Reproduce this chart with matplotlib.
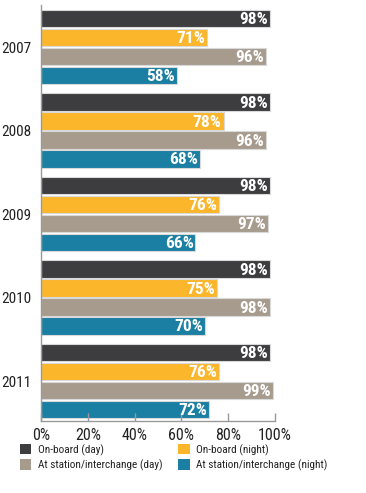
import matplotlib
matplotlib.use("Agg")
import matplotlib.pyplot as plt
from matplotlib.patches import Patch
import numpy as np

plt.rcParams['font.family'] = ['Roboto Condensed', 'DejaVu Sans']

years = ["2007", "2008", "2009", "2010", "2011"]
series_names = ["On-board (day)", "On-board (night)",
                "At station/interchange (day)", "At station/interchange (night)"]
onboard_day = [98, 98, 98, 98, 98]
onboard_night = [71, 78, 76, 75, 76]
station_day = [96, 96, 97, 98, 99]
station_night = [58, 68, 66, 70, 72]
x_ticks = [0, 20, 40, 60, 80, 100]
x_tick_labels = ["0%", "20%", "40%", "60%", "80%", "100%"]

colors = ["#3d3c3e", "#fbb62b", "#a69b8d", "#1a7fa2"]
series = [onboard_day, onboard_night, station_day, station_night]

fig = plt.figure(figsize=(3.66, 4.93), dpi=100)
ax = fig.add_axes([41/366, 1-421/493, 234/366, 416/493])

step = 0.2275
height = 0.204
centers = np.arange(len(years))
for j, (vals, col) in enumerate(zip(series, colors)):
    ys = centers + (j - 1.5) * step
    ax.barh(ys, vals, height=height, color=col, edgecolor="#d9d9d9", linewidth=0.8)
    for y, v in zip(ys, vals):
        ax.text(v - 0.8, y + 0.012, f"{v}%", ha="right", va="center", color="white",
                fontsize=12.5, fontweight="semibold")

ax.set_ylim(4.479, -0.503)
ax.set_xlim(0, 100)
ax.set_yticks(centers)
ax.set_yticklabels(years, fontsize=11, color="#222222")
ax.tick_params(axis="y", length=0, pad=7)
ax.set_xticks(x_ticks)
ax.set_xticklabels(x_tick_labels, fontsize=11.5, color="#222222")
ax.tick_params(axis="x", direction="in", length=6, color="#999999", width=1, pad=5)
for s in ["top", "right"]:
    ax.spines[s].set_visible(False)
for s in ["left", "bottom"]:
    ax.spines[s].set_color("#999999")
    ax.spines[s].set_linewidth(1)

handles = [Patch(facecolor=colors[0], label=series_names[0]),
           Patch(facecolor=colors[2], label=series_names[2]),
           Patch(facecolor=colors[1], label=series_names[1]),
           Patch(facecolor=colors[3], label=series_names[3])]
fig.legend(handles=handles, loc="upper left", bbox_to_anchor=(20/366, 1-444/493),
           ncol=2, frameon=False, fontsize=8.1, handlelength=1.0, handleheight=1.0,
           handletextpad=0.6, columnspacing=1.4, labelspacing=0.35,
           borderaxespad=0, borderpad=0.0, labelcolor="#222222")

fig.savefig("out.png", dpi=100)
